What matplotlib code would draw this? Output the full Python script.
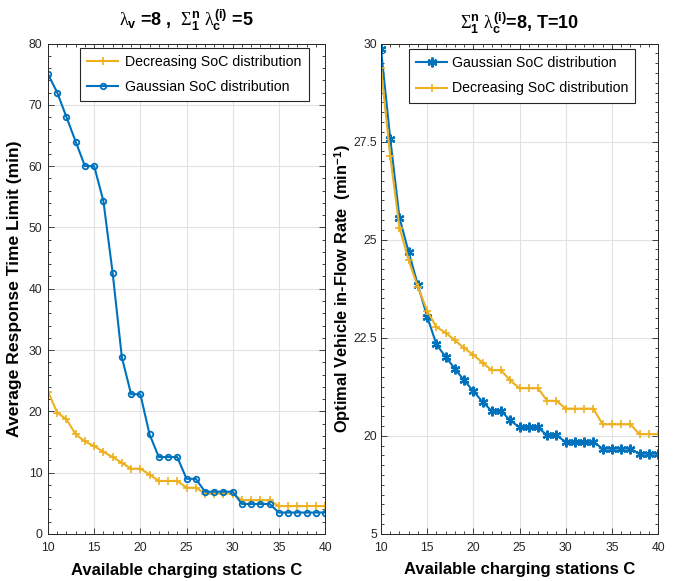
import matplotlib
matplotlib.use("Agg")
import matplotlib.pyplot as plt
from matplotlib.ticker import MultipleLocator

plt.rcParams['font.family'] = ['Liberation Sans', 'DejaVu Sans']
plt.rcParams['mathtext.fontset'] = 'custom'
plt.rcParams['mathtext.rm'] = 'Liberation Serif'
plt.rcParams['mathtext.it'] = 'Liberation Serif'
plt.rcParams['mathtext.bf'] = 'Liberation Sans:bold'

BLUE = '#0072BD'
YELLOW = '#EDB120'
TICK = '#262626'

# Number of available charging stations
stations = list(range(10, 41))

# Left panel: average response time limit (min)
resp_decreasing = [23.2, 19.8, 18.7, 16.25, 15.1, 14.35, 13.4, 12.55, 11.6, 10.65,
                   10.65, 9.7, 8.65, 8.65, 8.65, 7.55, 7.55, 6.6, 6.6, 6.6,
                   6.6, 5.5, 5.5, 5.5, 5.5, 4.55, 4.55, 4.55, 4.55, 4.55, 4.55]
resp_gaussian = [75.0, 72.0, 68.0, 64.0, 60.0, 60.0, 54.3, 42.6, 28.8, 22.8,
                 22.8, 16.25, 12.55, 12.55, 12.55, 9.0, 9.0, 6.9, 6.9, 6.9,
                 6.9, 4.9, 4.9, 4.9, 4.9, 3.5, 3.5, 3.5, 3.5, 3.5, 3.5]

# Right panel: optimal vehicle in-flow rate (1/min)
flow_gaussian = [29.86, 27.58, 25.56, 24.68, 23.84, 23.04, 22.33, 22.01, 21.71, 21.41,
                 21.14, 20.86, 20.63, 20.63, 20.39, 20.21, 20.21, 20.21, 20.01, 20.01,
                 19.84, 19.84, 19.84, 19.84, 19.67, 19.67, 19.67, 19.67, 19.54, 19.54, 19.54]
flow_decreasing = [29.38, 27.13, 25.31, 24.47, 23.79, 23.19, 22.77, 22.63, 22.43, 22.24,
                   22.06, 21.86, 21.67, 21.67, 21.41, 21.21, 21.21, 21.21, 20.89, 20.89,
                   20.69, 20.69, 20.69, 20.69, 20.29, 20.29, 20.29, 20.29, 20.04, 20.04, 20.04]

flow_ticks = [17.5, 20, 22.5, 25, 27.5, 30]
flow_ticklabels = ['5', '20', '22.5', '25', '27.5', '30']

fig = plt.figure(figsize=(6.76, 5.81), dpi=100)
axL = fig.add_axes([0.0710, 0.0809, 0.4098, 0.8442])
axR = fig.add_axes([0.5636, 0.0814, 0.4098, 0.8434])


def style(ax):
    ax.set_xlim(10, 40)
    ax.xaxis.set_major_locator(MultipleLocator(5))
    ax.xaxis.set_minor_locator(MultipleLocator(1))
    ax.tick_params(which='both', direction='in', top=True, right=True,
                   colors=TICK, labelsize=8.7, width=0.6)
    ax.tick_params(which='major', length=4)
    ax.tick_params(which='minor', length=2.5)
    ax.tick_params(axis='x', pad=6)
    ax.tick_params(axis='y', pad=4)
    ax.grid(True, which='major', color='#e1e1e1', linewidth=0.8)
    ax.set_axisbelow(True)
    for s in ax.spines.values():
        s.set_color(TICK)
        s.set_linewidth(0.7)
    ax.set_xlabel('Available charging stations C', fontsize=12, fontweight='bold', labelpad=6)


def add_legend(ax, anchor, textpad):
    leg = ax.legend(loc='upper right', bbox_to_anchor=anchor, borderaxespad=0,
                    fontsize=10.2, fancybox=False, edgecolor='#262626', framealpha=1,
                    borderpad=0.5, handlelength=2.2, handletextpad=textpad,
                    labelspacing=0.8)
    leg.get_frame().set_linewidth(0.8)
    return leg


# Left panel
axL.plot(stations, resp_decreasing, color=YELLOW, marker='+', markersize=6,
         markeredgewidth=1.2, linewidth=1.5, label='Decreasing SoC distribution')
axL.plot(stations, resp_gaussian, color=BLUE, marker='o', markersize=4,
         markerfacecolor='none', markeredgewidth=1.3, linewidth=1.5,
         label='Gaussian SoC distribution')
style(axL)
axL.set_ylim(0, 80)
axL.yaxis.set_major_locator(MultipleLocator(10))
axL.yaxis.set_minor_locator(MultipleLocator(2))
axL.set_ylabel('Average Response Time Limit (min)', fontsize=12.6, fontweight='bold')
axL.yaxis.set_label_coords(-0.094, 0.5)
axL.set_title(r'$\lambda_{\mathbf{v}}$ =8 ,  $\Sigma_{\mathbf{1}}^{\mathbf{n}}\ \lambda_{\mathbf{c}}^{\mathbf{(i)}}$ =5',
              fontsize=13, fontweight='bold', pad=12)
add_legend(axL, (0.942, 0.991), 0.5)

# Right panel
axR.plot(stations, flow_gaussian, color=BLUE, marker=(6, 2, 0), markersize=7,
         markeredgewidth=1.6, linewidth=1.5, label='Gaussian SoC distribution')
axR.plot(stations, flow_decreasing, color=YELLOW, marker='+', markersize=6,
         markeredgewidth=1.2, linewidth=1.5, label='Decreasing SoC distribution')
style(axR)
axR.tick_params(axis='y', pad=3)
axR.set_ylim(17.5, 30)
axR.set_yticks(flow_ticks)
axR.set_yticklabels(flow_ticklabels)
axR.yaxis.set_minor_locator(MultipleLocator(0.25))
axR.set_ylabel(r'Optimal Vehicle in-Flow Rate  (min$^{\mathbf{-1}}$)', fontsize=11.8,
               fontweight='bold')
axR.yaxis.set_label_coords(-0.102, 0.5)
axR.set_title(r'$\Sigma_{\mathbf{1}}^{\mathbf{n}}\ \lambda_{\mathbf{c}}^{\mathbf{(i)}}$=8, T=10',
              fontsize=13, fontweight='bold', pad=10)
add_legend(axR, (0.917, 0.989), 0.3)

fig.savefig('out.png', dpi=100)
